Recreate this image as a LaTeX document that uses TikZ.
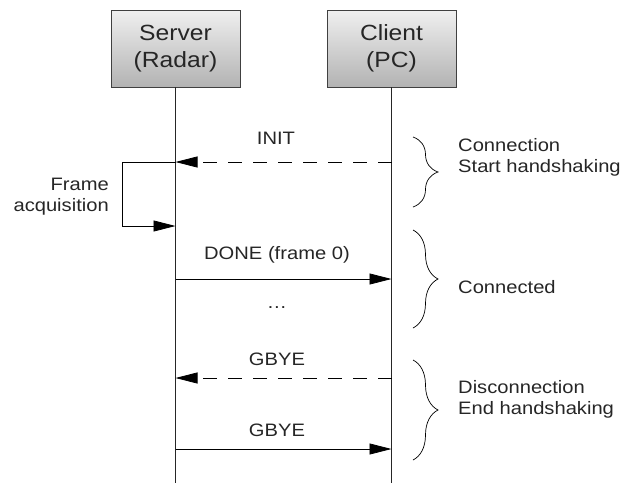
\documentclass[tikz,border=0pt]{standalone}
\usepackage{fontspec}
\setmainfont[FakeStretch=1.12]{Liberation Sans}
\usetikzlibrary{arrows.meta,decorations.pathreplacing}
\begin{document}
\begin{tikzpicture}[x=1pt,y=-1pt,
 actor/.style={draw=black!75, line width=0.8pt, top color=black!6, bottom color=black!30,
   minimum width=129pt, minimum height=77pt, align=center, text=black!85,
   font=\fontsize{22}{27}\selectfont, inner sep=0pt},
 life/.style={line width=0.8pt, black!85},
 msg/.style={line width=0.8pt, -{Triangle[length=22pt,width=11pt]}},
 reply/.style={msg, dash pattern=on 14pt off 11pt},
 lbl/.style={font=\fontsize{18}{21}\selectfont, inner sep=0pt, text=black!85},
 br/.style={decorate, decoration={brace, amplitude=25pt, aspect=0.5}, line width=0.7pt}
]
\useasboundingbox (0,0) rectangle (625,483);

\node[actor] (srv) at (175.5,48.5) {Server\\(Radar)};
\node[actor] (cli) at (391.5,48.5) {Client\\(PC)};

\coordinate (sEnd) at (175.5,483);
\coordinate (cEnd) at (391.5,483);
\draw[life] (srv.south) -- (sEnd);
\draw[life] (cli.south) -- (cEnd);

% message points
\coordinate (s1) at (175.5,162);
\coordinate (c1) at (391.5,162);
\coordinate (lA) at (122,162);
\coordinate (lB) at (122,226);
\coordinate (s2) at (175.5,226);
\coordinate (s3) at (175.5,279);
\coordinate (c3) at (391.5,279);
\coordinate (s4) at (175.5,378);
\coordinate (c4) at (391.5,378);
\coordinate (s5) at (175.5,449);
\coordinate (c5) at (391.5,449);

\draw[reply] (c1) -- (s1);
\draw[msg] (s1) -- (lA) -- (lB) -- (s2);
\draw[msg] (s3) -- (c3);
\draw[reply] (c4) -- (s4);
\draw[msg] (s5) -- (c5);

\node[lbl] (tInit) at (276,138) {INIT};
\node[lbl, align=right, anchor=east] (tFrame) at (109,197) {Frame\\acquisition};
\node[lbl] (tDone) at (277,255) {DONE (frame 0)};
\node[lbl] (tDots) at (277,308) {\dots};
\node[lbl] (tG1) at (277,359) {GBYE};
\node[lbl] (tG2) at (277,430) {GBYE};

% braces
\coordinate (b1t) at (413,137);
\coordinate (b1b) at (413,207);
\coordinate (b2t) at (413,230);
\coordinate (b2b) at (413,328);
\coordinate (b3t) at (413,360);
\coordinate (b3b) at (413,460);
\draw[br] (b1t) -- (b1b);
\draw[br] (b2t) -- (b2b);
\draw[br] (b3t) -- (b3b);

\node[lbl, align=left, anchor=west] (tC1) at (458,157) {Connection\\Start handshaking};
\node[lbl, align=left, anchor=west] (tC2) at (458,287) {Connected};
\node[lbl, align=left, anchor=west] (tC3) at (458,399) {Disconnection\\End handshaking};
\end{tikzpicture}
\end{document}
